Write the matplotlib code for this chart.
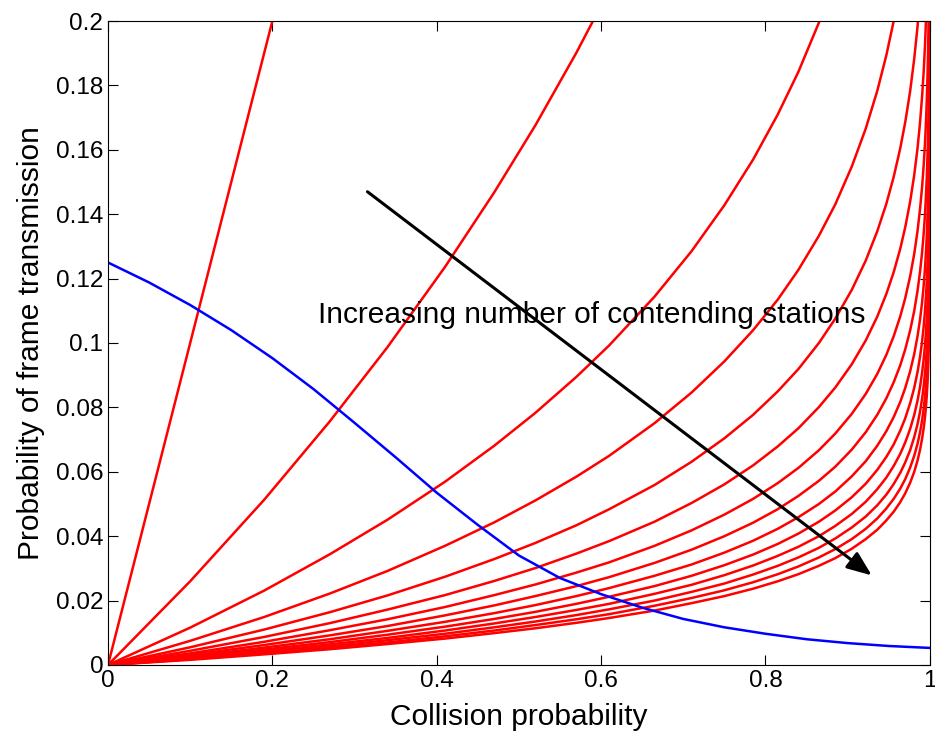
import numpy as np
import matplotlib
matplotlib.use("Agg")
import matplotlib.pyplot as plt

plt.rcParams['font.family'] = ['Liberation Sans', 'DejaVu Sans']

# collision probability samples shared by all the red curves
collision_p = [0, 0.1, 0.19, 0.27, 0.34, 0.41, 0.47, 0.52, 0.57, 0.61,
               0.665, 0.71, 0.75, 0.785, 0.815, 0.84, 0.865, 0.885, 0.905, 0.922,
               0.936, 0.947, 0.956, 0.964, 0.97, 0.976, 0.981, 0.985, 0.988, 0.9905,
               0.9925, 0.994, 0.9952, 0.9963, 0.9973, 0.9982, 0.999, 0.9996, 1.0]

# transmission probability needed for a given collision probability, n stations
stations = [2, 5, 10, 15, 20, 25, 30, 35, 40, 45, 50, 55, 60, 65]
tau_n2 = [0, 0.1, 0.19, 0.27]
tau_n5 = [0, 0.0260, 0.0513, 0.0757, 0.0987, 0.1236, 0.1468, 0.1676, 0.1902, 0.2097]
tau_n10 = [0, 0.0116, 0.0231, 0.0344, 0.0451, 0.0569, 0.0681, 0.0783, 0.0895, 0.0993,
           0.1144, 0.1285, 0.1428, 0.1570, 0.1710, 0.1842, 0.1995, 0.2136]
tau_n15 = [0, 0.0075, 0.0149, 0.0222, 0.0292, 0.0370, 0.0443, 0.0511, 0.0585, 0.0650,
           0.0751, 0.0846, 0.0943, 0.1040, 0.1135, 0.1227, 0.1333, 0.1431, 0.1548, 0.1666,
           0.1783, 0.1893, 0.2000, 0.2114]
tau_n20 = [0, 0.0055, 0.0110, 0.0164, 0.0216, 0.0274, 0.0329, 0.0379, 0.0434, 0.0484,
           0.0559, 0.0631, 0.0704, 0.0777, 0.0850, 0.0919, 0.1000, 0.1076, 0.1165, 0.1256,
           0.1347, 0.1432, 0.1516, 0.1605, 0.1685, 0.1782, 0.1883, 0.1983, 0.2077]
tau_n25 = [0, 0.0044, 0.0087, 0.0130, 0.0172, 0.0217, 0.0261, 0.0301, 0.0346, 0.0385,
           0.0445, 0.0503, 0.0561, 0.0620, 0.0679, 0.0735, 0.0801, 0.0862, 0.0934, 0.1008,
           0.1082, 0.1152, 0.1220, 0.1293, 0.1359, 0.1439, 0.1522, 0.1605, 0.1683, 0.1764,
           0.1844, 0.1920, 0.1995, 0.2081]
tau_n30 = [0, 0.0036, 0.0072, 0.0108, 0.0142, 0.0180, 0.0217, 0.0250, 0.0287, 0.0319,
           0.0370, 0.0418, 0.0467, 0.0516, 0.0565, 0.0612, 0.0667, 0.0719, 0.0780, 0.0842,
           0.0904, 0.0963, 0.1021, 0.1083, 0.1139, 0.1207, 0.1277, 0.1348, 0.1415, 0.1483,
           0.1553, 0.1617, 0.1682, 0.1756, 0.1845, 0.1958, 0.2120]
tau_n35 = [0, 0.0031, 0.0062, 0.0092, 0.0121, 0.0154, 0.0185, 0.0214, 0.0245, 0.0273,
           0.0317, 0.0358, 0.0400, 0.0442, 0.0484, 0.0525, 0.0572, 0.0616, 0.0669, 0.0723,
           0.0777, 0.0828, 0.0878, 0.0931, 0.0980, 0.1039, 0.1100, 0.1162, 0.1220, 0.1280,
           0.1340, 0.1397, 0.1453, 0.1518, 0.1597, 0.1696, 0.1839, 0.2056]
tau_n40 = [0, 0.0027, 0.0054, 0.0080, 0.0106, 0.0134, 0.0161, 0.0186, 0.0214, 0.0239,
           0.0277, 0.0312, 0.0349, 0.0386, 0.0423, 0.0459, 0.0500, 0.0539, 0.0586, 0.0633,
           0.0681, 0.0726, 0.0770, 0.0817, 0.0860, 0.0912, 0.0966, 0.1021, 0.1072, 0.1125,
           0.1179, 0.1229, 0.1279, 0.1337, 0.1407, 0.1496, 0.1623, 0.1818, 1.0]
tau_n45 = [0, 0.0024, 0.0048, 0.0071, 0.0094, 0.0119, 0.0143, 0.0165, 0.0190, 0.0212,
           0.0245, 0.0277, 0.0310, 0.0343, 0.0376, 0.0408, 0.0445, 0.0480, 0.0521, 0.0563,
           0.0606, 0.0646, 0.0685, 0.0728, 0.0766, 0.0813, 0.0861, 0.0910, 0.0956, 0.1004,
           0.1052, 0.1098, 0.1143, 0.1195, 0.1258, 0.1338, 0.1453, 0.1629, 1.0]
tau_n50 = [0, 0.0021, 0.0043, 0.0064, 0.0084, 0.0107, 0.0129, 0.0149, 0.0171, 0.0190,
           0.0221, 0.0249, 0.0279, 0.0309, 0.0339, 0.0367, 0.0400, 0.0432, 0.0469, 0.0507,
           0.0546, 0.0582, 0.0618, 0.0656, 0.0691, 0.0733, 0.0777, 0.0821, 0.0863, 0.0907,
           0.0950, 0.0991, 0.1032, 0.1080, 0.1137, 0.1210, 0.1315, 0.1476, 1.0]
tau_n55 = [0, 0.0019, 0.0039, 0.0058, 0.0077, 0.0097, 0.0117, 0.0135, 0.0155, 0.0173,
           0.0200, 0.0227, 0.0253, 0.0281, 0.0308, 0.0334, 0.0364, 0.0393, 0.0427, 0.0461,
           0.0496, 0.0529, 0.0562, 0.0597, 0.0629, 0.0667, 0.0708, 0.0748, 0.0786, 0.0826,
           0.0866, 0.0904, 0.0941, 0.0985, 0.1037, 0.1104, 0.1201, 0.1349, 1.0]
tau_n60 = [0, 0.0018, 0.0036, 0.0053, 0.0070, 0.0089, 0.0107, 0.0124, 0.0142, 0.0158,
           0.0184, 0.0208, 0.0232, 0.0257, 0.0282, 0.0306, 0.0334, 0.0360, 0.0391, 0.0423,
           0.0455, 0.0486, 0.0516, 0.0548, 0.0577, 0.0613, 0.0650, 0.0687, 0.0722, 0.0759,
           0.0796, 0.0831, 0.0865, 0.0905, 0.0954, 0.1016, 0.1105, 0.1242, 1.0]
tau_n65 = [0, 0.0016, 0.0033, 0.0049, 0.0065, 0.0082, 0.0099, 0.0114, 0.0131, 0.0146,
           0.0169, 0.0192, 0.0214, 0.0237, 0.0260, 0.0282, 0.0308, 0.0332, 0.0361, 0.0391,
           0.0420, 0.0449, 0.0476, 0.0506, 0.0533, 0.0566, 0.0600, 0.0635, 0.0668, 0.0702,
           0.0736, 0.0768, 0.0800, 0.0838, 0.0883, 0.0940, 0.1023, 0.1151, 1.0]

# backoff curve: transmission probability as a function of collision probability
backoff_p = [0, 0.05, 0.1, 0.15, 0.2, 0.25, 0.3, 0.35, 0.4, 0.45, 0.5, 0.55, 0.6, 0.65, 0.7,
             0.75, 0.8, 0.85, 0.9, 0.95, 1.0]
backoff_tau = [0.1250, 0.1188, 0.1118, 0.1040, 0.0953, 0.0857, 0.0752, 0.0645, 0.0535, 0.0435,
               0.0340, 0.0270, 0.0220, 0.0178, 0.0143, 0.0117, 0.0097, 0.0080, 0.0068, 0.0059,
               0.0053]

x_ticks = [0, 0.2, 0.4, 0.6, 0.8, 1]
x_ticklabels = ['0', '0.2', '0.4', '0.6', '0.8', '1']
y_ticks = [0, 0.02, 0.04, 0.06, 0.08, 0.1, 0.12, 0.14, 0.16, 0.18, 0.2]
y_ticklabels = ['0', '0.02', '0.04', '0.06', '0.08', '0.1', '0.12', '0.14', '0.16', '0.18', '0.2']

curves = [tau_n2, tau_n5, tau_n10, tau_n15, tau_n20, tau_n25, tau_n30,
          tau_n35, tau_n40, tau_n45, tau_n50, tau_n55, tau_n60, tau_n65]

fig = plt.figure(figsize=(9.35, 7.45), dpi=100)
ax = fig.add_axes([0.1155, 0.1074, 0.879, 0.8644])

p = np.array(collision_p)
for n, tau in zip(stations, curves):
    ax.plot(p[:len(tau)], tau, color='red', lw=1.8)
ax.plot(backoff_p, backoff_tau, color='blue', lw=1.8)

ax.annotate('', xy=(0.932, 0.0273), xytext=(0.313, 0.1475),
            arrowprops=dict(arrowstyle='-|>,head_length=1.5,head_width=0.6',
                            color='black', lw=2.2))
ax.text(0.255, 0.1087, 'Increasing number of contending stations', fontsize=21.5, va='center')

ax.set_xlim(0, 1)
ax.set_ylim(0, 0.2)
ax.set_xticks(x_ticks)
ax.set_xticklabels(x_ticklabels)
ax.set_yticks(y_ticks)
ax.set_yticklabels(y_ticklabels)
ax.tick_params(direction='in', top=True, right=True, labelsize=17.5, length=7)
ax.set_xlabel('Collision probability', fontsize=21.5, labelpad=8)
ax.set_ylabel('Probability of frame transmission', fontsize=21.5, labelpad=8)

fig.savefig('out.png', dpi=100)
